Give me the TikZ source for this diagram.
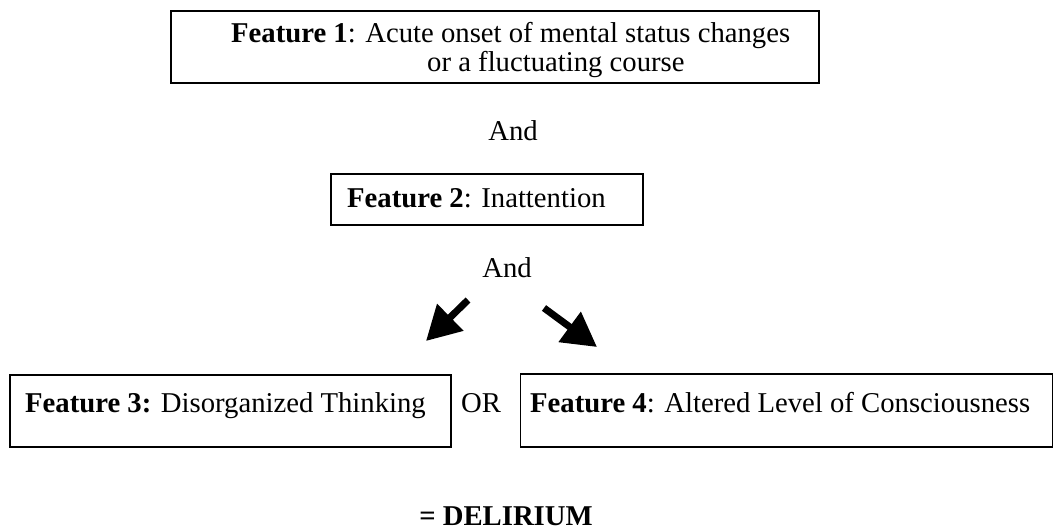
\documentclass[tikz,border=0pt]{standalone}
\usepackage{fontspec}
\setmainfont{Liberation Serif}
\usetikzlibrary{arrows.meta}
\tikzset{
  box/.style={draw=black, line width=1.6pt, rectangle, inner sep=0pt},
  txt/.style={inner sep=0pt, anchor=base west, font=\fontsize{28.7}{30}\selectfont},
  ctxt/.style={inner sep=0pt, anchor=base, font=\fontsize{28.7}{30}\selectfont},
  bigarrow/.style={line width=7pt, -{Triangle[length=34pt, width=36pt]}, line join=miter}
}
\begin{document}
\begin{tikzpicture}[x=1pt, y=-1pt]
\useasboundingbox (0,0) rectangle (1054,529);
% boxes
\node[box, minimum width=648pt, minimum height=72pt] (b1) at (495,47) {};
\node[box, minimum width=312pt, minimum height=51pt] (b2) at (487,199.5) {};
\node[box, minimum width=441pt, minimum height=72pt] (b3) at (230.5,411) {};
\node[box, minimum width=532pt, minimum height=73pt] (b4) at (786.5,410.5) {};
% texts
\node[txt] (t1a) at (231,43) {\textbf{Feature 1}: Acute onset of mental status changes};
\node[txt] (t1b) at (427,72) {or a fluctuating course};
\node[ctxt] (and1) at (513,141) {And};
\node[txt] (t2) at (347,208) {\textbf{Feature 2}: Inattention};
\node[ctxt] (and2) at (507,277) {And};
\node[txt] (t3) at (25,412) {\textbf{Feature 3:} Disorganized Thinking};
\node[ctxt] (or) at (481,412) {OR};
\node[txt] (t4) at (530,412) {\textbf{Feature 4}: Altered Level of Consciousness};
\node[ctxt] (del) at (506,525) {\textbf{= DELIRIUM}};
% arrows
\coordinate (la) at (468,300);
\coordinate (lb) at (426,341);
\coordinate (ra) at (544,308);
\coordinate (rb) at (597,347);
\draw[bigarrow] (la) -- (lb);
\draw[bigarrow] (ra) -- (rb);
\end{tikzpicture}
\end{document}
